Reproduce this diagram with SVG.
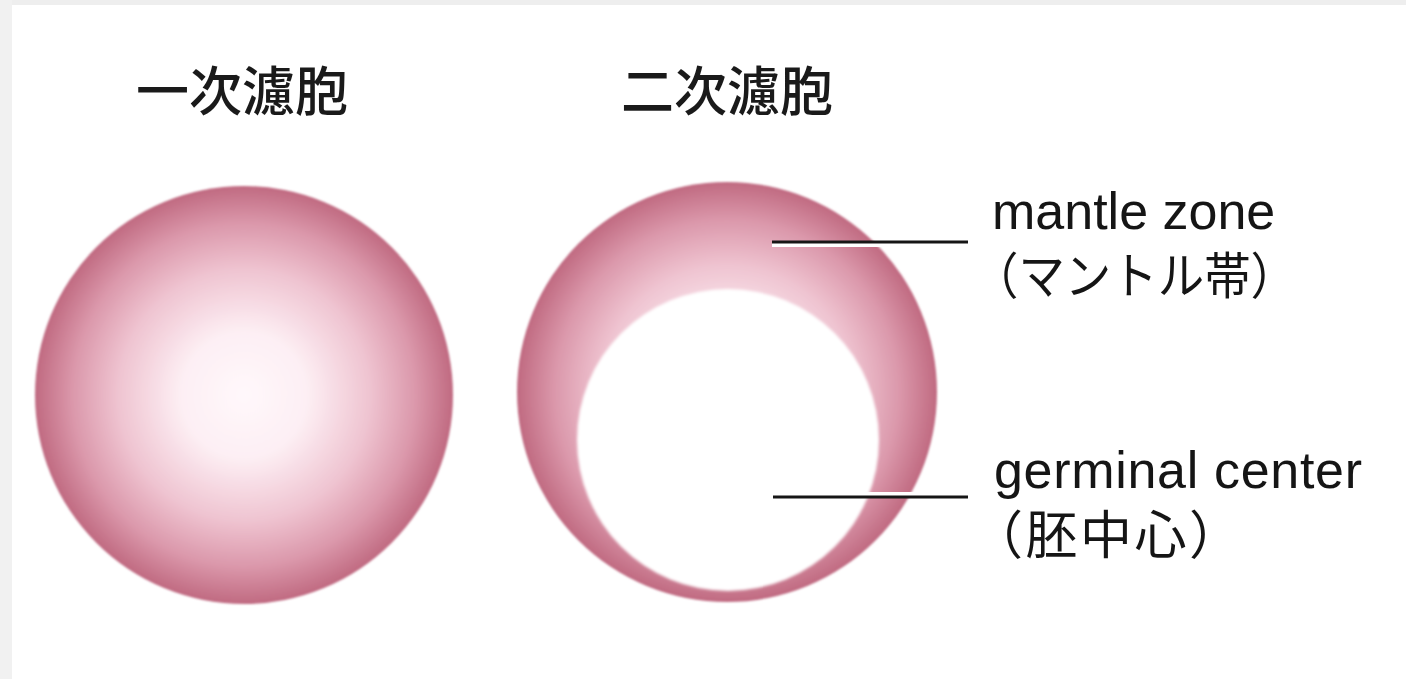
<svg xmlns="http://www.w3.org/2000/svg" width="1406" height="679" viewBox="0 0 1406 679">
  <defs>
    <radialGradient id="follicleShade" cx="0.5" cy="0.5" r="0.5">
      <stop offset="0" stop-color="#fff8fb"/>
      <stop offset="0.3" stop-color="#fdeff4"/>
      <stop offset="0.6" stop-color="#efc4d1"/>
      <stop offset="0.82" stop-color="#db98ab"/>
      <stop offset="1" stop-color="#c06a81"/>
    </radialGradient>
    <filter id="soft" x="-10%" y="-10%" width="120%" height="120%">
      <feGaussianBlur stdDeviation="1.6"/>
    </filter>
    <filter id="edge" x="-5%" y="-5%" width="110%" height="110%">
      <feGaussianBlur stdDeviation="0.8"/>
    </filter>
  </defs>
  <style>
    .title { font-family: "Noto Sans CJK JP", "Noto Sans CJK SC", sans-serif; font-size: 53px; font-weight: 500; fill: #1a1a1a; }
    .label { font-family: "Liberation Sans", Arial, sans-serif; font-size: 52px; fill: #151515; }
    .labelJa { font-family: "Noto Sans CJK JP", "Noto Sans CJK SC", sans-serif; font-size: 50px; fill: #151515; }
    .leader { stroke: #161616; stroke-width: 3; fill: none; }
    .halo { stroke: #ffffff; stroke-width: 4; fill: none; }
  </style>

  <!-- page background with light frame -->
  <rect x="0" y="0" width="1406" height="679" fill="#ffffff"/>
  <rect x="0" y="0" width="1406" height="5" fill="#eeeeee"/>
  <rect x="0" y="0" width="12" height="679" fill="#f1f1f1"/>

  <!-- primary follicle -->
  <g id="primary-follicle">
    <text class="title" x="136" y="111">一次濾胞</text>
    <circle cx="244" cy="395" r="209" fill="url(#follicleShade)" filter="url(#edge)"/>
  </g>

  <!-- secondary follicle: mantle zone with germinal center -->
  <g id="secondary-follicle">
    <text class="title" x="621" y="111">二次濾胞</text>
    <circle id="mantle-zone" cx="727" cy="392" r="210" fill="url(#follicleShade)" filter="url(#edge)"/>
    <circle id="germinal-center" cx="728" cy="440" r="151" fill="#ffffff" filter="url(#soft)"/>
  </g>

  <!-- leader lines -->
  <g id="connectors">
    <line class="halo" x1="772" y1="245" x2="968" y2="245"/>
    <line class="leader" x1="772" y1="242" x2="968" y2="242"/>
    <line class="halo" x1="773" y1="494" x2="968" y2="494"/>
    <line class="leader" x1="773" y1="497" x2="968" y2="497"/>
  </g>

  <g id="label-mantle">
    <text class="label" x="992" y="229">mantle zone</text>
    <text class="labelJa" x="972" y="294" textLength="325" lengthAdjust="spacingAndGlyphs">（マントル帯）</text>
  </g>

  <g id="label-germinal">
    <text class="label" x="994" y="488" textLength="368" lengthAdjust="spacing">germinal center</text>
    <text class="labelJa" x="971" y="554" textLength="270" lengthAdjust="spacing" style="font-size:52px">（胚中心）</text>
  </g>
</svg>
